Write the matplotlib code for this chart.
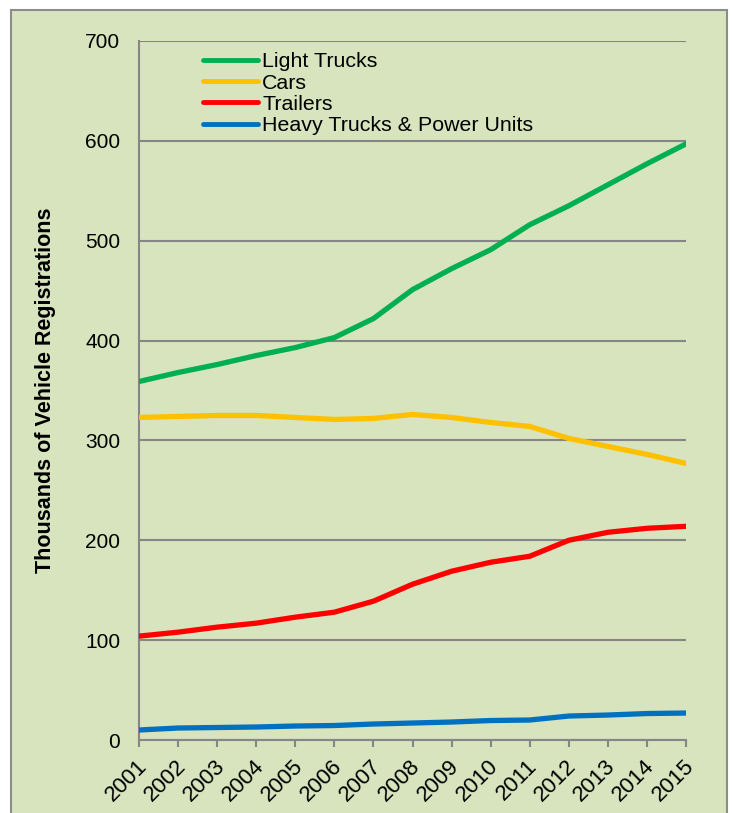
import matplotlib.pyplot as plt
import matplotlib.transforms as mtransforms
from matplotlib.patches import Rectangle

plt.rcParams['font.family'] = ['Liberation Sans', 'DejaVu Sans']

# Registrations by vehicle type, thousands
years = list(range(2001, 2016))
light_trucks = [359, 368, 376, 385, 393, 403, 422, 451, 472, 491, 516, 535, 556, 577, 597]
cars = [323, 324, 325, 325, 323, 321, 322, 326, 323, 318, 314, 302, 294, 286, 277]
trailers = [104, 108, 113, 117, 123, 128, 139, 156, 169, 178, 184, 200, 208, 212, 214]
heavy_trucks = [10, 12, 12.5, 13, 14, 14.5, 16, 17, 18, 19.5, 20, 24, 25, 26.5, 27]

series = [
    ('Light Trucks', light_trucks, '#00B050'),
    ('Cars', cars, '#FFC000'),
    ('Trailers', trailers, '#FF0000'),
    ('Heavy Trucks & Power Units', heavy_trucks, '#0070C0'),
]

bg = '#D7E4BD'
grid_col = '#868686'

fig = plt.figure(figsize=(7.32, 8.13), dpi=100)
fig.patch.set_facecolor('white')

# green panel with grey border behind the chart
W, H = 732, 813
panel = Rectangle((11 / W, -0.01), (727 - 11) / W, (H - 10) / H + 0.01,
                  transform=fig.transFigure, facecolor=bg,
                  edgecolor='#8C8C8C', linewidth=1.5, zorder=-5)
fig.add_artist(panel)

ax = fig.add_axes([139 / W, 73 / H, (686 - 139) / W, (740 - 41) / H])
ax.set_facecolor(bg)

for name, vals, col in series:
    ax.plot(years, vals, color=col, linewidth=3.8, label=name,
            solid_capstyle='round', zorder=3)

ax.set_xlim(2001, 2015)
ax.set_ylim(0, 700)
ax.set_yticks(range(0, 701, 100))
ax.set_xticks(years)
ax.set_xticklabels([str(y) for y in years], rotation=45, ha='right',
                   rotation_mode='anchor', fontsize=16)
ax.tick_params(axis='y', length=0, pad=13.5, labelsize=15)
ax.tick_params(axis='x', length=5, width=1.5, color=grid_col, pad=6)

# nudge the slanted year labels a little to the left
shift = mtransforms.ScaledTranslation(-2 / 72, 0, fig.dpi_scale_trans)
for lbl in ax.get_xticklabels():
    lbl.set_transform(lbl.get_transform() + shift)

ax.grid(axis='y', color=grid_col, linewidth=1.5, zorder=1)
ax.set_axisbelow(True)
for side in ['top', 'right']:
    ax.spines[side].set_visible(False)
for side in ['left', 'bottom']:
    ax.spines[side].set_color(grid_col)
    ax.spines[side].set_linewidth(1.5)

ax.set_ylabel('Thousands of Vehicle Registrations', fontsize=15.5,
              fontweight='bold')
ax.yaxis.set_label_coords(-0.151, 0.5)

leg = ax.legend(loc='upper left', bbox_to_anchor=(0.117, 0.984), frameon=False,
                fontsize=15.4, handlelength=2.57, handletextpad=0.19,
                labelspacing=0.11, borderpad=0, borderaxespad=0)
for line in leg.get_lines():
    line.set_linewidth(3.5)

fig.savefig('out.png', dpi=100, facecolor='white')
